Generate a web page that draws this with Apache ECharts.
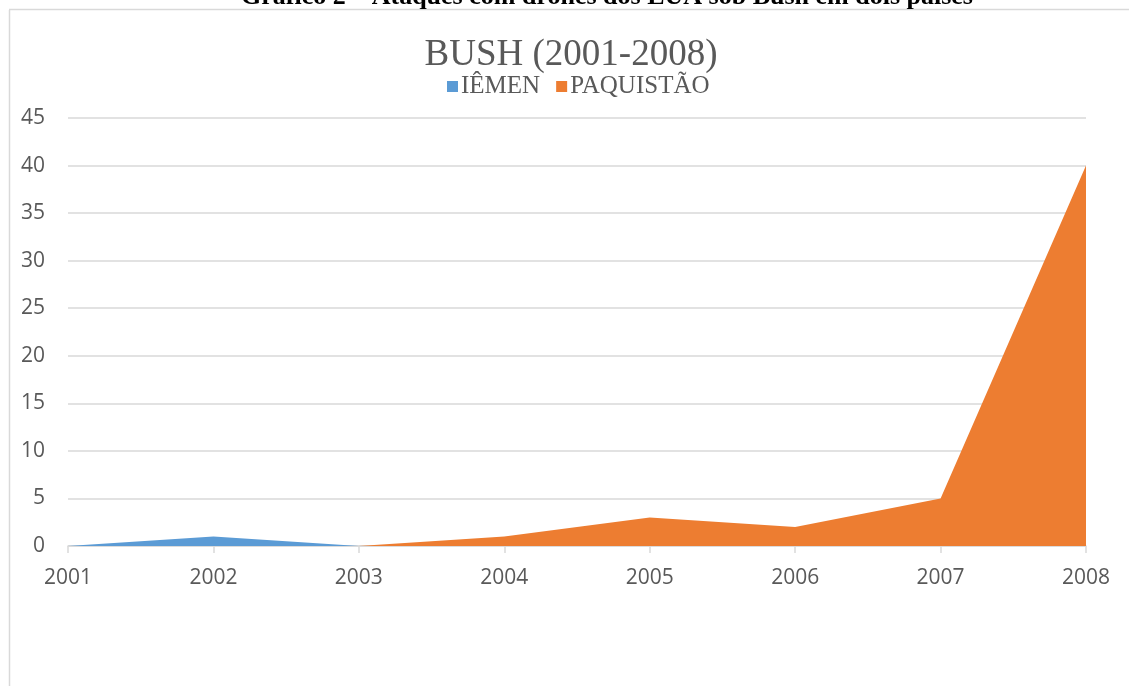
<!DOCTYPE html>
<html>
<head>
<meta charset="utf-8">
<style>
  html, body { margin: 0; padding: 0; background: #ffffff; }
  #chart { width: 1129px; height: 686px; }
</style>
<script src="https://cdn.jsdelivr.net/npm/echarts@6/dist/echarts.min.js"></script>
</head>
<body>
<div id="chart"></div>
<script>
// Drone strikes per year under Bush, by country
const years = ['2001', '2002', '2003', '2004', '2005', '2006', '2007', '2008'];
const iemen = [0, 1, 0, 0, 0, 0, 0, 0];
const paquistao = [0, 0, 0, 1, 3, 2, 5, 40];
const yTicks = { min: 0, max: 45, step: 5 };

const heading = 'Gráfico 2 – Ataques com drones dos EUA sob Bush em dois países';
const chartTitle = 'BUSH (2001-2008)';

const grey = '#595959';
const lineGrey = '#d9d9d9';
const sansFont = '"Open Sans", "Liberation Sans", sans-serif';
const serifFont = '"Liberation Serif", "DejaVu Serif", serif';

const chart = echarts.init(document.getElementById('chart'), null, { renderer: 'canvas' });

chart.setOption({
  backgroundColor: '#ffffff',
  animation: false,
  graphic: [
    // chart frame (left and top edges)
    { type: 'line', shape: { x1: 9.5, y1: 10, x2: 9.5, y2: 686 }, style: { stroke: lineGrey, lineWidth: 1.5 }, silent: true },
    { type: 'line', shape: { x1: 9, y1: 9.5, x2: 1129, y2: 9.5 }, style: { stroke: lineGrey, lineWidth: 1.5 }, silent: true },
    // document caption above the frame
    { type: 'text', x: 607, y: -16,
      style: { text: heading, font: 'bold 26px ' + serifFont, fill: '#000000', textAlign: 'center' }, silent: true },
    // chart title
    { type: 'text', x: 571, y: 55.5,
      style: { text: chartTitle, font: '37px ' + serifFont, fill: grey, textAlign: 'center', textVerticalAlign: 'middle' }, silent: true }
  ],
  legend: {
    data: [
      { name: 'IÊMEN', icon: 'rect' },
      { name: 'PAQUISTÃO', icon: 'rect' }
    ],
    left: 447,
    top: 74,
    padding: 0,
    itemWidth: 11,
    itemHeight: 11,
    itemGap: 16,
    textStyle: { fontFamily: serifFont, fontSize: 25, color: grey, padding: [0, 0, 0, -2] }
  },
  grid: { left: 68, right: 43, top: 118, bottom: 140, containLabel: false },
  xAxis: {
    type: 'category',
    data: years,
    boundaryGap: false,
    axisLine: { show: true, lineStyle: { color: lineGrey, width: 1.5 } },
    axisTick: { show: true, length: 7, lineStyle: { color: lineGrey, width: 1.5 } },
    axisLabel: { color: grey, fontFamily: sansFont, fontSize: 21, margin: 22 },
    splitLine: { show: false }
  },
  yAxis: {
    type: 'value',
    min: yTicks.min,
    max: yTicks.max,
    interval: yTicks.step,
    axisLine: { show: false },
    axisTick: { show: false },
    axisLabel: { color: grey, fontFamily: sansFont, fontSize: 21, margin: 23 },
    splitLine: { show: true, lineStyle: { color: lineGrey, width: 1.5 } }
  },
  series: [
    {
      name: 'IÊMEN',
      type: 'line',
      data: iemen,
      symbol: 'none',
      lineStyle: { width: 0 },
      itemStyle: { color: '#5b9bd5' },
      areaStyle: { color: '#5b9bd5', opacity: 1 },
      z: 2
    },
    {
      name: 'PAQUISTÃO',
      type: 'line',
      data: paquistao,
      symbol: 'none',
      lineStyle: { width: 0 },
      itemStyle: { color: '#ed7d31' },
      areaStyle: { color: '#ed7d31', opacity: 1 },
      z: 3
    }
  ]
});
</script>
</body>
</html>
